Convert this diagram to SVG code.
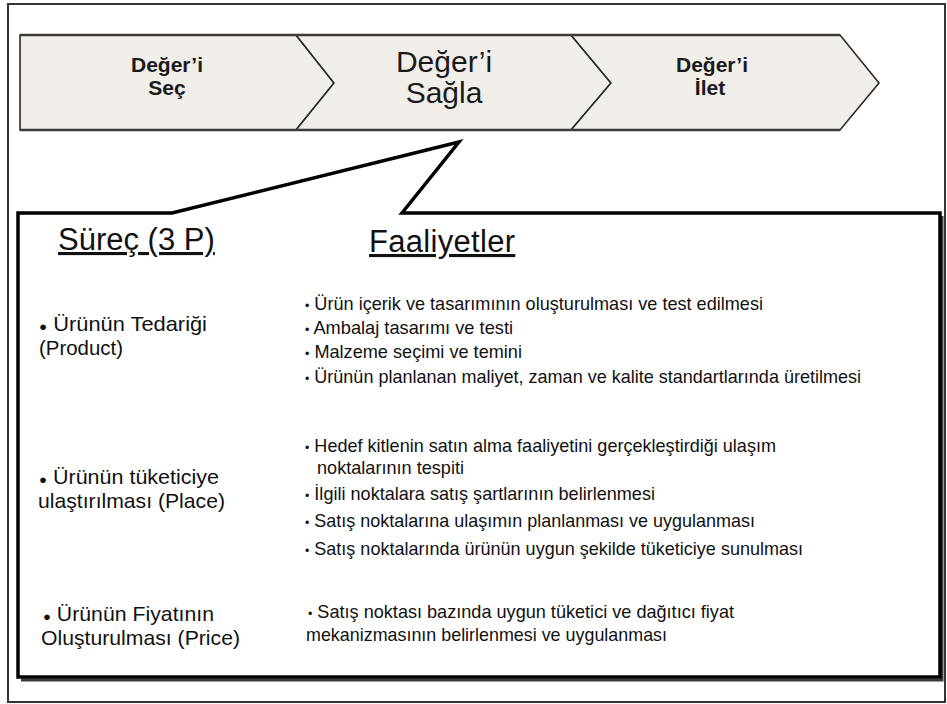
<svg xmlns="http://www.w3.org/2000/svg" width="947" height="704" viewBox="0 0 947 704">
<style>
.frame{fill:#ffffff;stroke:#333333;stroke-width:2}
.chev{fill:#f1eeea;stroke:#2a2a2a;stroke-width:1.6;stroke-linejoin:miter}
.band{fill:none;stroke:#3a3a3a;stroke-width:2.6}
.lblb{font-family:"Liberation Sans",Arial,sans-serif;font-weight:bold;font-size:21px;fill:#1a1a1a;text-anchor:middle}
.lblm{font-family:"Liberation Sans",Arial,sans-serif;font-size:30px;fill:#1a1a1a;text-anchor:middle}
.box{fill:#ffffff;stroke:#000000;stroke-width:3.5;stroke-linejoin:miter}
.shadow{fill:none;stroke:#3a3a3a;stroke-width:3}
.hdr{font-family:"Liberation Sans",Arial,sans-serif;font-size:31px;fill:#111111;text-decoration:underline}
.lft{font-family:"Liberation Sans",Arial,sans-serif;font-size:21px;fill:#111111}
.rgt{font-family:"Liberation Sans",Arial,sans-serif;font-size:19px;fill:#111111}
.bul{font-size:13px}
</style>
<rect class="frame" x="8" y="4" width="937" height="698"/>
<g id="chevrons">
  <g id="node-sec">
    <polygon class="chev" points="20,35 296,35 334,83 296,130 20,130"/>
    <text class="lblb" x="167" y="72">Değer’i</text>
    <text class="lblb" x="167" y="95">Seç</text>
  </g>
  <g id="node-sagla">
    <polygon class="chev" points="296,35 571,35 611,83 571,130 296,130 334,83"/>
    <text class="lblm" x="444" y="72">Değer’i</text>
    <text class="lblm" x="444" y="103">Sağla</text>
  </g>
  <g id="node-ilet">
    <polygon class="chev" points="571,35 840,35 879,83 840,130 571,130 611,83"/>
    <text class="lblb" x="712" y="72">Değer’i</text>
    <text class="lblb" x="710" y="95">İlet</text>
  </g>
  <path class="band" d="M20,35 L840,35 M20,130 L840,130"/>
</g>
<g id="connectors">
  <path class="shadow" d="M942,216 L942,680 L21,680"/>
  <path id="callout" class="box" d="M18,213 L172,213 L459,142 L402,213 L940,213 L940,677 L18,677 Z"/>
</g>
<g id="node-headers">
  <text class="hdr" x="58" y="250">Süreç (3 P)</text>
  <text class="hdr" x="369" y="252" letter-spacing="0.3">Faaliyetler</text>
</g>
<g id="node-product">
  <text class="lft" x="39" y="331" textLength="168" lengthAdjust="spacingAndGlyphs"><tspan class="bul">●</tspan> Ürünün Tedariği</text>
  <text class="lft" x="39" y="355" textLength="84" lengthAdjust="spacingAndGlyphs">(Product)</text>
  <text class="rgt" x="305" y="310" textLength="458" lengthAdjust="spacingAndGlyphs"><tspan class="bul">•</tspan> Ürün içerik ve tasarımının oluşturulması ve test edilmesi</text>
  <text class="rgt" x="305" y="334" textLength="208" lengthAdjust="spacingAndGlyphs"><tspan class="bul">•</tspan> Ambalaj tasarımı ve testi</text>
  <text class="rgt" x="305" y="358" textLength="217" lengthAdjust="spacingAndGlyphs"><tspan class="bul">•</tspan> Malzeme seçimi ve temini</text>
  <text class="rgt" x="305" y="383" textLength="556" lengthAdjust="spacingAndGlyphs"><tspan class="bul">•</tspan> Ürünün planlanan maliyet, zaman ve kalite standartlarında üretilmesi</text>
</g>
<g id="node-place">
  <text class="lft" x="39" y="484" textLength="180" lengthAdjust="spacingAndGlyphs"><tspan class="bul">●</tspan> Ürünün tüketiciye</text>
  <text class="lft" x="38" y="508" textLength="187" lengthAdjust="spacingAndGlyphs">ulaştırılması (Place)</text>
  <text class="rgt" x="305" y="452" textLength="471" lengthAdjust="spacingAndGlyphs"><tspan class="bul">•</tspan> Hedef kitlenin satın alma faaliyetini gerçekleştirdiği ulaşım</text>
  <text class="rgt" x="317" y="474" textLength="147" lengthAdjust="spacingAndGlyphs">noktalarının tespiti</text>
  <text class="rgt" x="305" y="500" textLength="350" lengthAdjust="spacingAndGlyphs"><tspan class="bul">•</tspan> İlgili noktalara satış şartlarının belirlenmesi</text>
  <text class="rgt" x="305" y="527" textLength="450" lengthAdjust="spacingAndGlyphs"><tspan class="bul">•</tspan> Satış noktalarına ulaşımın planlanması ve uygulanması</text>
  <text class="rgt" x="305" y="555" textLength="498" lengthAdjust="spacingAndGlyphs"><tspan class="bul">•</tspan> Satış noktalarında ürünün uygun şekilde tüketiciye sunulması</text>
</g>
<g id="node-price">
  <text class="lft" x="43" y="621" textLength="171" lengthAdjust="spacingAndGlyphs"><tspan class="bul">●</tspan> Ürünün Fiyatının</text>
  <text class="lft" x="41" y="645" textLength="199" lengthAdjust="spacingAndGlyphs">Oluşturulması (Price)</text>
  <text class="rgt" x="308" y="618" textLength="426" lengthAdjust="spacingAndGlyphs"><tspan class="bul">•</tspan> Satış noktası bazında uygun tüketici ve dağıtıcı fiyat</text>
  <text class="rgt" x="306" y="641" textLength="361" lengthAdjust="spacingAndGlyphs">mekanizmasının belirlenmesi ve uygulanması</text>
</g>
</svg>
